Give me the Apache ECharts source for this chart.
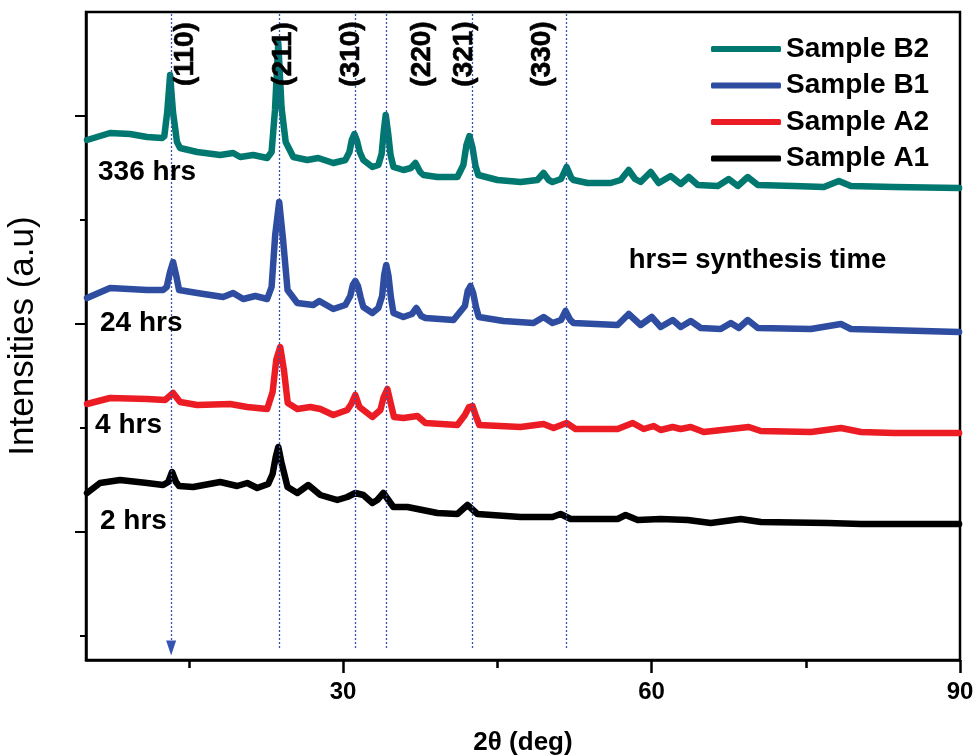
<!DOCTYPE html>
<html><head><meta charset="utf-8">
<script src="https://cdn.jsdelivr.net/npm/echarts@6.0.0/dist/echarts.min.js"></script>
<style>html,body{margin:0;padding:0;background:#fff}#c{width:976px;height:756px}</style>
</head><body><div id="c"></div>
<script>
// ---- data (2θ in degrees, intensity in a.u.) ----
const legendOrder = ['Sample B2', 'Sample B1', 'Sample A2', 'Sample A1'];
const sampleB2 = [[5.1,520],[7.34,527],[9.28,526],[10.94,523],[12.40,522],[12.62,524],[12.90,548],[13.18,585],[13.46,548],[13.85,518],[14.15,512],[15.81,508],[18.05,505],[19.31,507],[20.00,503],[21.26,505],[22.62,502],[23.05,508],[23.38,550],[23.70,617],[24.02,552],[24.42,518],[25.16,503],[26.52,500],[27.59,502],[29.05,497],[30.22,500],[30.62,508],[30.85,520],[31.10,526],[31.36,519],[31.62,508],[31.97,500],[32.85,493],[33.43,495],[33.75,506],[33.95,528],[34.15,545],[34.38,527],[34.62,505],[34.90,493],[35.87,490],[36.6,492],[37.04,497],[37.5,488],[37.81,485],[39.18,483],[41.12,483],[41.70,495],[42.00,515],[42.29,524],[42.58,513],[42.88,494],[43.15,485],[45.02,480],[47.26,478],[48.9,480],[49.50,487],[50.0,480],[50.37,478],[51.2,481],[51.74,493],[52.2,482],[52.42,480],[53.78,477],[56.02,477],[57.0,480],[57.78,490],[58.4,481],[58.94,478],[59.92,488],[60.70,477],[61.86,484],[62.84,476],[63.62,483],[64.50,475],[66.45,474],[67.51,481],[68.39,474],[69.36,483],[70.34,475],[73.84,474],[76.76,473],[78.22,479],[79.39,474],[83.58,473],[89.91,472]];
const sampleB1 = [[5.1,362],[7.34,372],[10.94,370],[12.50,370],[12.85,373],[13.15,387],[13.47,398],[13.78,384],[14.05,370],[15.81,367],[18.34,363],[19.31,367],[20.29,361],[21.46,364],[22.62,361],[23.05,373],[23.40,425],[23.79,458],[24.15,422],[24.60,370],[25.55,357],[27.10,355],[27.69,359],[29.05,351],[30.22,355],[30.70,364],[30.95,375],[31.19,379],[31.45,374],[31.70,363],[31.97,353],[32.85,347],[33.43,352],[33.80,364],[34.00,385],[34.20,395],[34.42,384],[34.65,363],[34.90,347],[35.87,343],[36.7,346],[37.13,352],[37.6,344],[38.01,342],[40.74,340],[41.85,354],[42.12,369],[42.39,374],[42.65,367],[42.95,352],[43.20,343],[45.60,339],[48.52,337],[49.50,343],[50.37,337],[51.2,340],[51.64,349],[52.1,340],[52.42,337],[56.70,335],[57.78,346],[58.94,335],[60.02,343],[60.89,333],[62.06,340],[62.84,333],[63.81,339],[64.79,332],[66.73,331],[67.71,337],[68.49,332],[69.36,340],[70.34,332],[75.50,331],[78.42,336],[79.39,331],[89.91,328]];
const sampleA2 = [[5.1,256],[7.34,262],[10.94,261],[12.69,260],[13.47,267],[14.15,258],[15.81,255],[19.02,256],[20.68,253],[22.62,251],[23.15,268],[23.50,300],[23.89,313],[24.25,290],[24.62,257],[25.55,251],[26.81,253],[27.79,251],[29.05,245],[30.41,250],[30.80,256],[31.19,265],[31.60,253],[32.85,243],[33.63,250],[33.95,263],[34.31,271],[34.65,256],[34.95,243],[35.87,242],[37.23,244],[38.01,237],[41.12,235],[41.85,245],[42.25,253],[42.59,254],[42.95,243],[43.25,235],[47.26,233],[49.50,236],[50.47,232],[51.74,237],[52.61,231],[56.70,231],[58.17,237],[59.24,231],[60.21,234],[60.89,230],[62.06,233],[62.84,231],[63.81,233],[65.08,228],[67.71,231],[69.46,233],[70.63,229],[75.50,228],[78.42,232],[80.37,228],[83.58,227],[89.91,227]];
const sampleA1 = [[5.1,167],[6.36,177],[8.31,180],[10.94,177],[12.50,175],[13.0,178],[13.37,188],[13.75,178],[14.05,174],[15.42,173],[18.05,178],[19.70,174],[20.68,177],[21.65,172],[22.72,176],[23.15,186],[23.45,203],[23.70,213],[24.00,198],[24.60,173],[25.55,167],[26.62,175],[27.79,165],[29.44,160],[30.41,163],[31.19,167],[31.97,165],[32.85,157],[33.33,160],[33.92,167],[34.89,153],[36.26,153],[39.18,147],[41.12,146],[42.10,155],[43.07,146],[47.26,143],[50.37,143],[51.15,146],[52.13,141],[56.70,141],[57.48,145],[58.65,140],[60.89,141],[63.52,140],[65.76,137],[68.68,141],[70.63,138],[77.15,137],[80.37,136],[89.91,136]];

// reference reflection positions (dotted lines) and Miller index labels
const peakLines = [13.28, 23.79, 31.19, 34.21, 42.59, 51.74];
const hklLabels = ['(110)', '(211)', '(310)', '(220)', '(321)', '(330)'];
const hklAngles = [14.64, 24.18, 30.80, 37.72, 41.81, 49.40];
const hklLevel = 606;

// synthesis time labels
const timeLabels = ['336 hrs', '24 hrs', '4 hrs', '2 hrs'];
const timeAngles = [6.17, 6.36, 5.88, 6.36];
const timeLevels = [488, 337, 235, 139];
const noteLabel = 'hrs= synthesis time';
const noteAngle = 57.78;
const noteLevel = 400;

// axis ticks
const xMin = 5, xMax = 90;
const yMin = 0, yMax = 648;
const xMajorTicks = [30, 60, 90];
const xMinorTicks = [15, 45, 75];
const yMajorTicks = [544, 336, 128];
const yMinorTicks = [440, 232, 24];

// ---- chart ----
const FONT = '"Liberation Sans", Arial, Helvetica, sans-serif';
const colors = { 'Sample B2': '#00786F', 'Sample B1': '#2E4DA0', 'Sample A2': '#EC1C24', 'Sample A1': '#000000' };
const dataMap = { 'Sample B2': sampleB2, 'Sample B1': sampleB1, 'Sample A2': sampleA2, 'Sample A1': sampleA1 };

const chart = echarts.init(document.getElementById('c'), null, { renderer: 'canvas' });

const lineSeries = ['Sample A1', 'Sample A2', 'Sample B1', 'Sample B2'].map(name => ({
  name, type: 'line', data: dataMap[name], showSymbol: false, symbol: 'none',
  xAxisIndex: 0, yAxisIndex: 0,
  color: colors[name],
  lineStyle: { color: colors[name], width: 6.5, cap: 'round', join: 'round' },
  z: 3, silent: true
}));

const markLineData = peakLines.map((v, i) => ([
  { coord: [v, 12], symbol: i === 0 ? 'triangle' : 'none', symbolSize: i === 0 ? [10, 15] : 0, symbolRotate: 180 },
  { coord: [v, yMax], symbol: 'none' }
]));

lineSeries[3].markLine = {
  silent: true, animation: false,
  lineStyle: { color: '#3552B5', type: [2, 2], width: 1.3 },
  label: { show: false },
  itemStyle: { color: '#3552B5' },
  data: markLineData
};

const axisLineStyle = { color: '#000', width: 2.5 };

const option = {
  animation: false,
  backgroundColor: '#fff',
  grid: { left: 86, right: 16, top: 12, bottom: 96, show: true, borderColor: '#000', borderWidth: 2.5, backgroundColor: 'transparent', containLabel: false, outerBoundsMode: 'none' },
  legend: {
    data: legendOrder, orient: 'vertical', left: 706, top: 30,
    icon: 'roundRect', itemWidth: 70, itemHeight: 6, itemGap: 8.5,
    textStyle: { fontFamily: FONT, fontSize: 28, fontWeight: 'bold', color: '#000', lineHeight: 28 },
    itemStyle: { borderWidth: 0 }, selectedMode: false
  },
  xAxis: [
    { type: 'value', min: xMin, max: xMax, position: 'bottom',
      name: '2θ (deg)', nameLocation: 'middle', nameGap: 70,
      nameTextStyle: { fontFamily: FONT, fontSize: 26, fontWeight: 'bold', color: '#000' },
      axisLine: { show: true, lineStyle: axisLineStyle },
      axisTick: { show: true, inside: false, length: 13, customValues: xMajorTicks, lineStyle: { color: '#000', width: 2.5 } },
      axisLabel: { show: true, customValues: xMajorTicks, margin: 20, fontFamily: FONT, fontSize: 24, fontWeight: 'bold', color: '#000' },
      splitLine: { show: false }, minorTick: { show: false } },
    { type: 'value', min: xMin, max: xMax, position: 'bottom', gridIndex: 0,
      axisLine: { show: false },
      axisTick: { show: true, inside: false, length: 8, customValues: xMinorTicks, lineStyle: { color: '#000', width: 2.5 } },
      axisLabel: { show: false }, splitLine: { show: false } }
  ],
  yAxis: [
    { type: 'value', min: yMin, max: yMax, position: 'left',
      name: 'Intensities (a.u)', nameLocation: 'middle', nameGap: 45, nameRotate: 90,
      nameTextStyle: { fontFamily: FONT, fontSize: 35, fontWeight: 'normal', color: '#000' },
      axisLine: { show: true, lineStyle: axisLineStyle },
      axisTick: { show: true, inside: false, length: 11, customValues: yMajorTicks, lineStyle: { color: '#000', width: 2 } },
      axisLabel: { show: false }, splitLine: { show: false } },
    { type: 'value', min: yMin, max: yMax, position: 'left', gridIndex: 0,
      axisLine: { show: false },
      axisTick: { show: true, inside: false, length: 6, customValues: yMinorTicks, lineStyle: { color: '#000', width: 2 } },
      axisLabel: { show: false }, splitLine: { show: false } }
  ],
  series: lineSeries
};
chart.setOption(option);

// text annotations placed through the chart's own scales
const toPx = (x, y) => chart.convertToPixel({ xAxisIndex: 0, yAxisIndex: 0 }, [x, y]);
const graphics = [];
hklAngles.forEach((a, i) => {
  const p = toPx(a, hklLevel);
  graphics.push({ type: 'text', x: p[0], y: p[1], rotation: Math.PI / 2, z: 10, silent: true,
    style: { text: hklLabels[i], font: 'bold 28px ' + FONT, fill: '#000', stroke: '#000', lineWidth: 0.6,
      align: 'center', verticalAlign: 'middle', textAlign: 'center', textVerticalAlign: 'middle' } });
});
timeAngles.forEach((a, i) => {
  const p = toPx(a, timeLevels[i]);
  graphics.push({ type: 'text', x: p[0], y: p[1], z: 10, silent: true,
    style: { text: timeLabels[i], font: 'bold 28px ' + FONT, fill: '#000',
      align: 'left', verticalAlign: 'middle', textAlign: 'left', textVerticalAlign: 'middle' } });
});
{
  const p = toPx(noteAngle, noteLevel);
  graphics.push({ type: 'text', x: p[0], y: p[1], z: 10, silent: true,
    style: { text: noteLabel, font: 'bold 27.5px ' + FONT, fill: '#000',
      align: 'left', verticalAlign: 'middle', textAlign: 'left', textVerticalAlign: 'middle' } });
}
chart.setOption({ graphic: graphics });
</script></body></html>
